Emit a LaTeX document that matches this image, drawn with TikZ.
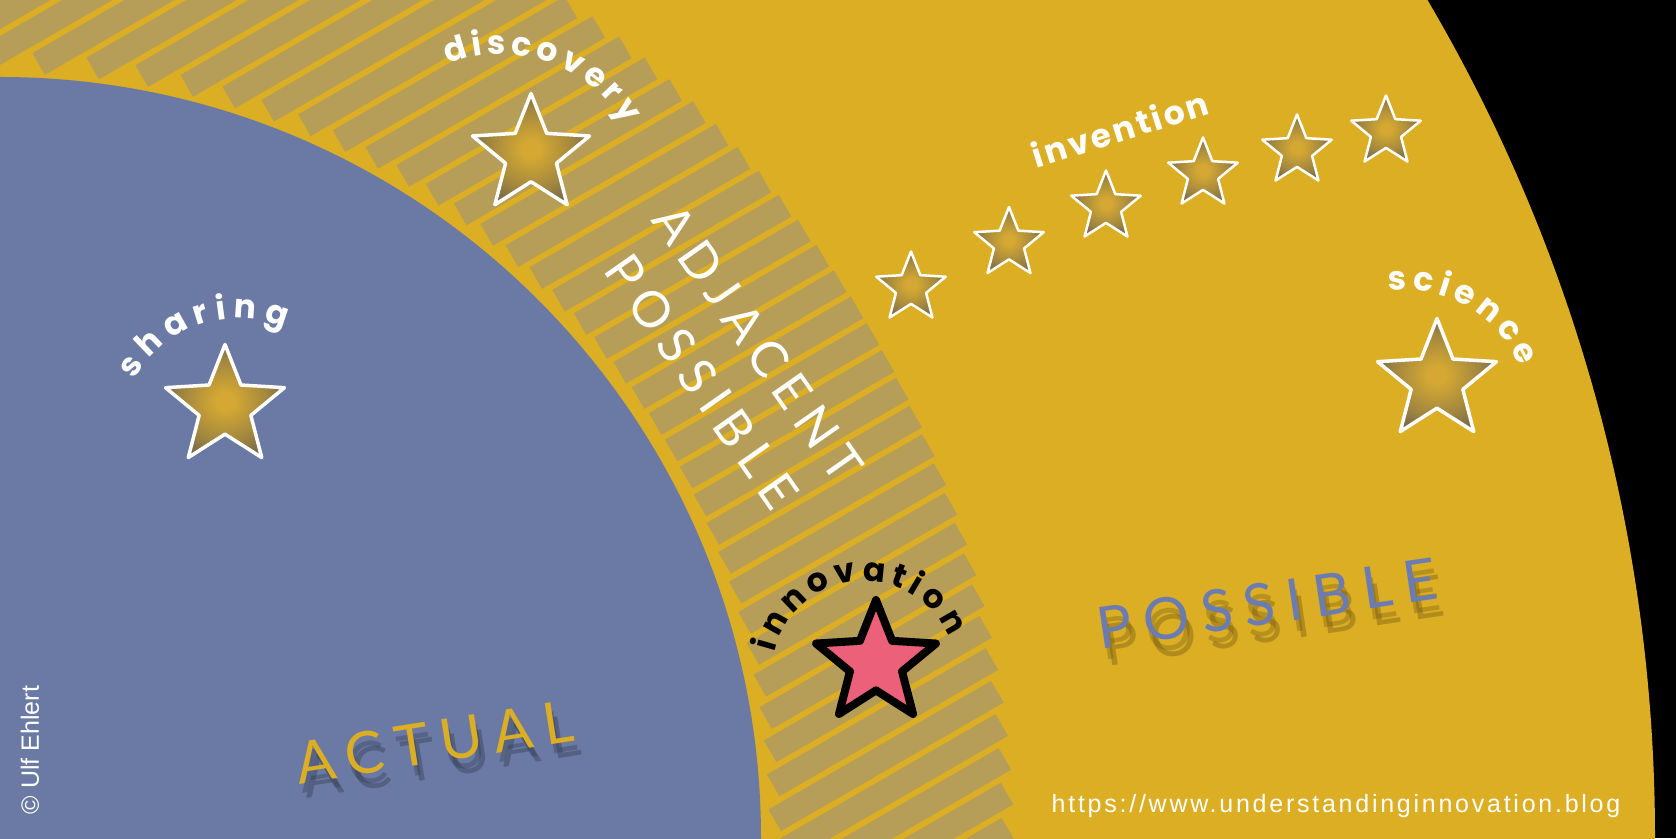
\documentclass[tikz,border=0pt]{standalone}
\usepackage{fontspec}
\usepackage{xcolor}
\usepackage{tikz}
\usetikzlibrary{shapes.geometric, decorations.text}

\setmainfont{Liberation Sans}
\newfontfamily\handfont[LetterSpace=8]{Poppins}
\newfontfamily\capsfont[LetterSpace=20]{Lato}
\newfontfamily\urlfont[LetterSpace=11]{Liberation Sans}
\newcommand\labelfont{\handfont\bfseries\fontsize{33}{33}\selectfont}

\definecolor{actualblue}{HTML}{6A7AA4}
\definecolor{possgold}{HTML}{DCAE24}
\definecolor{barkhaki}{HTML}{B69E58}
\definecolor{innopink}{HTML}{EC6079}
\definecolor{possblue}{HTML}{6B7CB3}
\definecolor{starcore}{HTML}{D4A832}
\definecolor{starrim}{HTML}{635D4F}
\colorlet{starmid}{starcore!55!starrim}
\pgfdeclareradialshading{stardent}{\pgfpoint{0bp}{0bp}}{color(0bp)=(starcore); color(4bp)=(starcore); color(18bp)=(starmid); color(30bp)=(starrim); color(50bp)=(starrim)}

\begin{document}
\begin{tikzpicture}[x=1pt, y=1pt,
  hatchbar/.style={fill=barkhaki},
  glowstar/.style={star, star points=5, star point ratio=2.3, inner sep=0pt, draw=white, line width=3.5pt, line join=round, shading=stardent},
  smallstar/.style={glowstar, line width=2.5pt, minimum size=73pt},
  keystar/.style={star, star points=5, star point ratio=2.3, inner sep=0pt, fill=innopink, draw=black, line width=8pt, line join=round, minimum size=126pt},
  arclabel/.style={decorate, decoration={text along path, text align={fit to path}, text color=white}},
  bigword/.style={font=\capsfont\fontsize{58}{58}\selectfont, inner sep=0pt, anchor=base}
]
\useasboundingbox (0,0) rectangle (1676,838);
\clip (0,0) rectangle (1676,838);
\fill[black] (0,0) rectangle (1676,838);
\fill[possgold] (0,0) circle[radius=1655];
\begin{scope}[rotate=30]
\foreach \k in {-17,...,28}{
  \pgfmathsetmacro\dd{31*\k}
  \pgfmathsetmacro\ta{100*sqrt(max(7.75^2-(\dd/100)^2,0))}
  \pgfmathsetmacro\tb{100*sqrt(10.08^2-(\dd/100)^2)}
  \fill[hatchbar] (\ta,\dd-12.5) rectangle (\tb,\dd+12.5);
}
\end{scope}
\fill[actualblue] (0,0) circle[radius=761];

\node[glowstar, minimum size=125pt] (sharing) at (225,431) {};
\node[glowstar, minimum size=123pt] (discovery) at (531,683) {};
\node[glowstar, minimum size=125pt] (science) at (1437,457) {};
\node[keystar] (innovation) at (876,175) {};
\foreach \p [count=\i] in {(911,550),(1009,594.5),(1106,631),(1203,664),(1297,687),(1386,706)}
  \node[smallstar] (inv\i) at \p {};

\path[arclabel, decoration={text={|\labelfont|sharing}}] (237,403.5) ++(152:116) arc[start angle=152, end angle=66, radius=116];
\path[arclabel, decoration={text={|\labelfont|discovery}}] (500,638) ++(111:146) arc[start angle=111, end angle=31, radius=146];
\path[arclabel, decoration={text color=black, text={|\labelfont|innovation}}] (864,165) ++(167:92) arc[start angle=167, end angle=23, radius=92];
\path[arclabel, decoration={text={|\labelfont|science}}] (1404,422) ++(97:126) arc[start angle=97, end angle=23, radius=126];
\node[font=\labelfont, text=white, anchor=base, rotate=17.4] (invention) at (1124,697) {invention};

\node[font=\capsfont\fontsize{50}{68}\selectfont, text=white, align=center, rotate=-55] (adjacent) at (730,476) {ADJACENT\\POSSIBLE};

\node[bigword, text=black!60!actualblue, opacity=0.35, rotate=9] (actualshade) at (445,61) {ACTUAL};
\node[bigword, text=black!60!actualblue, opacity=0.3, rotate=9] at (441,66) {ACTUAL};
\node[bigword, text=possgold, rotate=9] (actual) at (438,75.5) {ACTUAL};
\node[bigword, text=black!55!possgold, opacity=0.35, rotate=8.4] (possibleshade) at (1277,197) {POSSIBLE};
\node[bigword, text=black!55!possgold, opacity=0.3, rotate=8.4] at (1273,203) {POSSIBLE};
\node[bigword, text=possblue, rotate=8.4] (possible) at (1270,214) {POSSIBLE};

\node[font=\urlfont\fontsize{25}{25}\selectfont, text=white, anchor=base] (blog) at (1336,25) {https://www.understandinginnovation.blog};
\node[font=\fontsize{25}{25}\selectfont, text=white, rotate=90] (credit) at (30,88) {© Ulf Ehlert};
\end{tikzpicture}
\end{document}
